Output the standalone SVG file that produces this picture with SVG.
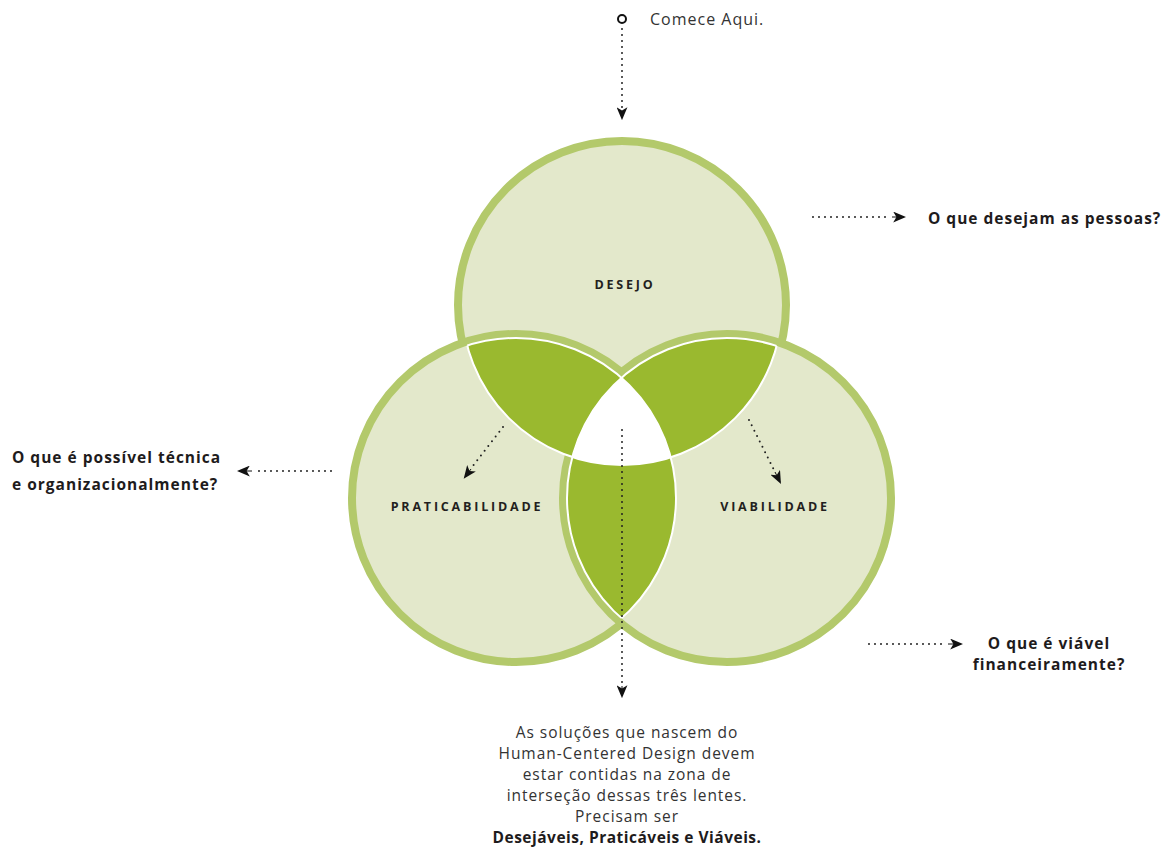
<svg xmlns="http://www.w3.org/2000/svg" width="1163" height="848" viewBox="0 0 1163 848">
<style>
.ring{fill:#e3e8cb;stroke:#b3c96b;stroke-width:8}
.lens{fill:#9ab92f}
.sep{fill:none;stroke:#ffffff;stroke-width:2}
.dot{fill:none;stroke:#222;stroke-width:2;stroke-linecap:round;stroke-dasharray:0 6}
.lbl{font-family:"Open Sans","Liberation Sans",sans-serif;font-weight:700;font-size:12.5px;letter-spacing:2.8px;fill:#231f20;text-anchor:middle}
.q{font-family:"Open Sans","Liberation Sans",sans-serif;font-weight:700;font-size:15.5px;letter-spacing:1px;fill:#1e1b1c}
.body{font-family:"Open Sans","Liberation Sans",sans-serif;font-size:15.5px;letter-spacing:0.95px;fill:#333;text-anchor:middle}
</style>
<defs>
<marker id="ah" viewBox="0 0 12 10" refX="10" refY="5" markerWidth="13" markerHeight="11" markerUnits="userSpaceOnUse" orient="auto">
<path d="M0,0 L12,5 L0,10 L3,5 Z" fill="#111"/>
</marker>
<clipPath id="inT"><circle cx="622" cy="305" r="160"/></clipPath>
<clipPath id="inL"><circle cx="516" cy="498" r="160"/></clipPath>
<clipPath id="inR"><circle cx="727" cy="498" r="160"/></clipPath>
<clipPath id="uLR"><circle cx="516" cy="498" r="160"/><circle cx="727" cy="498" r="160"/></clipPath>
<clipPath id="uTR"><circle cx="622" cy="305" r="160"/><circle cx="727" cy="498" r="160"/></clipPath>
<clipPath id="uTL"><circle cx="622" cy="305" r="160"/><circle cx="516" cy="498" r="160"/></clipPath>
</defs>
<g id="circle-desejo"><circle class="ring" cx="622" cy="305" r="164"/></g>
<g id="circle-praticabilidade"><circle class="ring" cx="516" cy="498" r="164"/></g>
<g id="circle-viabilidade"><circle class="ring" cx="727" cy="498" r="164"/></g>
<g id="lenses">
<g clip-path="url(#inT)"><circle class="lens" cx="516" cy="498" r="160"/></g>
<g clip-path="url(#inT)"><circle class="lens" cx="727" cy="498" r="160"/></g>
<g clip-path="url(#inL)"><circle class="lens" cx="727" cy="498" r="160"/></g>
<g clip-path="url(#inT)"><g clip-path="url(#inL)"><circle cx="727" cy="498" r="160" fill="#fff"/></g></g>
<g clip-path="url(#uLR)"><circle class="sep" cx="622" cy="305" r="160"/></g>
<g clip-path="url(#uTR)"><circle class="sep" cx="516" cy="498" r="160"/></g>
<g clip-path="url(#uTL)"><circle class="sep" cx="727" cy="498" r="160"/></g>
</g>
<g id="labels">
<text class="lbl" x="625" y="289">DESEJO</text>
<text class="lbl" x="467" y="511">PRATICABILIDADE</text>
<text class="lbl" x="775" y="511">VIABILIDADE</text>
</g>
<g id="connectors">
<circle cx="622" cy="19" r="4" fill="none" stroke="#111" stroke-width="2"/>
<line class="dot" x1="622" y1="29" x2="622" y2="112"/>
<line x1="622" y1="112" x2="622" y2="118" stroke="#111" stroke-width="1" marker-end="url(#ah)"/>
<line class="dot" x1="813" y1="217" x2="889" y2="217"/>
<line x1="892" y1="217" x2="904" y2="217" stroke="#111" stroke-width="1" marker-end="url(#ah)"/>
<line class="dot" x1="331" y1="471" x2="255" y2="471"/>
<line x1="252" y1="471" x2="239" y2="471" stroke="#111" stroke-width="1" marker-end="url(#ah)"/>
<line class="dot" x1="503" y1="427" x2="472" y2="467"/>
<line x1="471" y1="469" x2="465" y2="477" stroke="#111" stroke-width="1" marker-end="url(#ah)"/>
<line class="dot" x1="749" y1="420" x2="774" y2="470"/>
<line x1="775" y1="472" x2="780" y2="482" stroke="#111" stroke-width="1" marker-end="url(#ah)"/>
<line class="dot" x1="622" y1="430" x2="622" y2="684"/>
<line x1="622" y1="686" x2="622" y2="696" stroke="#111" stroke-width="1" marker-end="url(#ah)"/>
<line class="dot" x1="869" y1="644" x2="945" y2="644"/>
<line x1="948" y1="644" x2="961" y2="644" stroke="#111" stroke-width="1" marker-end="url(#ah)"/>
</g>
<g id="texts">
<text x="650" y="25" style="font-family:'Open Sans','Liberation Sans',sans-serif;font-size:16px;letter-spacing:1px;fill:#333">Comece Aqui.</text>
<text class="q" x="928" y="224">O que desejam as pessoas?</text>
<text class="q" x="12" y="463">O que é possível técnica</text>
<text class="q" x="12" y="490">e organizacionalmente?</text>
<text class="q" x="1049" y="649" text-anchor="middle">O que é viável</text>
<text class="q" x="1049" y="670" text-anchor="middle">financeiramente?</text>
<text class="body" x="627" y="738">As soluções que nascem do</text>
<text class="body" x="627" y="759">Human-Centered Design devem</text>
<text class="body" x="627" y="780">estar contidas na zona de</text>
<text class="body" x="627" y="801">interseção dessas três lentes.</text>
<text class="body" x="627" y="822">Precisam ser</text>
<text class="body" x="627" y="843" style="font-weight:700;letter-spacing:0.5px;fill:#1e1b1c">Desejáveis, Praticáveis e Viáveis.</text>
</g>
</svg>
